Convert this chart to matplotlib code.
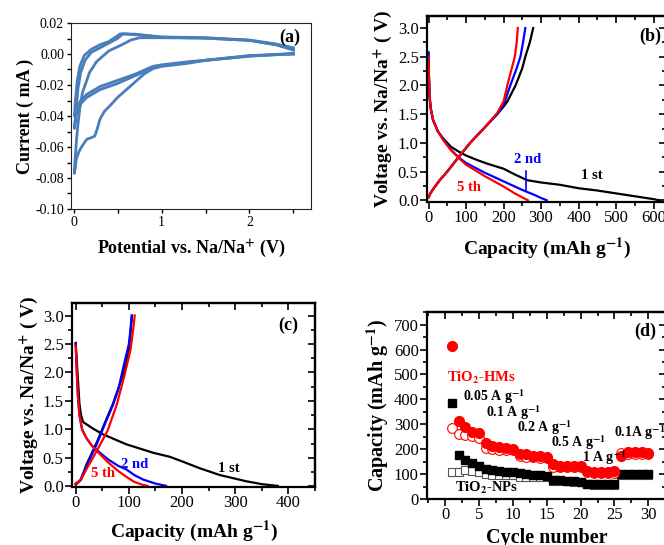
import matplotlib
matplotlib.use("Agg")
import matplotlib.pyplot as plt
from matplotlib.ticker import MultipleLocator
import numpy as np

plt.rcParams['font.family'] = ['Liberation Serif', 'DejaVu Serif']
plt.rcParams['mathtext.fontset'] = 'stix'

# ---------------- (a) CV data ----------------
cv1_E = [2.5, 2.0, 1.5, 1.3, 1.0, 0.9, 0.8, 0.7, 0.6, 0.5, 0.42, 0.35, 0.3, 0.27, 0.24, 0.2, 0.15,
         0.1, 0.06, 0.03, 0.01,
         0.014, 0.033, 0.05, 0.07, 0.1, 0.18, 0.26, 0.4, 0.55, 0.65, 0.75, 1.0, 1.5, 2.0, 2.3, 2.5]
cv1_I = [0.0005, -0.0015, -0.004, -0.006, -0.008, -0.0095, -0.013, -0.018, -0.023, -0.028, -0.033,
         -0.037, -0.042, -0.048, -0.053, -0.054, -0.055, -0.059, -0.063, -0.068, -0.077,
         -0.070, -0.055, -0.045, -0.035, -0.025, -0.012, -0.005, 0.002, 0.006, 0.009, 0.0105,
         0.0105, 0.0102, 0.0088, 0.006, 0.0025]
cv2_E = [2.5, 2.0, 1.5, 1.3, 1.0, 0.9, 0.7, 0.5, 0.3, 0.15, 0.08, 0.04, 0.02, 0.01,
         0.02, 0.04, 0.07, 0.12, 0.2, 0.3, 0.4, 0.48, 0.53, 0.7, 1.0, 1.5, 2.0, 2.3, 2.5]
cv2_I = [0.0, -0.001, -0.004, -0.005, -0.007, -0.008, -0.013, -0.017, -0.021, -0.026, -0.030,
         -0.035, -0.038, -0.040,
         -0.030, -0.018, -0.008, -0.001, 0.003, 0.006, 0.008, 0.011, 0.013, 0.0128, 0.011,
         0.0105, 0.009, 0.0065, 0.004]
cv3_E = [2.5, 2.0, 1.5, 1.3, 1.0, 0.9, 0.7, 0.5, 0.3, 0.15, 0.08, 0.04, 0.02, 0.01,
         0.03, 0.05, 0.08, 0.13, 0.2, 0.3, 0.4, 0.5, 0.56, 0.7, 1.0, 1.5, 2.0, 2.3, 2.5]
cv3_I = [0.0, -0.0012, -0.0042, -0.0055, -0.0075, -0.009, -0.014, -0.019, -0.023, -0.028,
         -0.032, -0.037, -0.042, -0.048,
         -0.035, -0.022, -0.012, -0.004, 0.001, 0.004, 0.007, 0.010, 0.013, 0.0125, 0.0108,
         0.0103, 0.0088, 0.006, 0.003]

# ---------------- (b) HMs charge/discharge ----------------
b_dis1_cap = [0, 1, 3, 6, 12, 25, 40, 60, 80, 100, 130, 160, 200, 230, 263, 300, 350, 400, 450, 500, 550, 600, 615]
b_dis1_v = [2.55, 2.2, 1.8, 1.6, 1.4, 1.2, 1.07, 0.93, 0.85, 0.78, 0.70, 0.63, 0.55, 0.45, 0.35, 0.31, 0.27, 0.21, 0.17, 0.12, 0.07, 0.02, 0.0]
b_dis2_cap = [0, 1, 3, 6, 12, 25, 40, 60, 80, 100, 150, 200, 250, 280, 300, 315]
b_dis2_v = [2.58, 2.2, 1.8, 1.6, 1.4, 1.2, 1.05, 0.88, 0.75, 0.65, 0.48, 0.33, 0.18, 0.10, 0.04, 0.0]
b_dis5_cap = [0, 1, 3, 6, 12, 25, 40, 60, 80, 100, 150, 200, 230, 250, 265]
b_dis5_v = [2.5, 2.2, 1.8, 1.6, 1.4, 1.2, 1.04, 0.87, 0.74, 0.62, 0.42, 0.24, 0.12, 0.05, 0.0]
b_chg1_cap = [0, 5, 15, 30, 50, 80, 111, 150, 183, 200, 210, 232, 250, 258, 270, 279]
b_chg1_v = [0.05, 0.12, 0.22, 0.35, 0.5, 0.75, 1.0, 1.27, 1.5, 1.63, 1.72, 2.0, 2.3, 2.5, 2.75, 3.0]
b_chg2_cap = [0, 5, 15, 30, 50, 80, 111, 150, 183, 200, 205, 218, 235, 245, 252, 258]
b_chg2_v = [0.05, 0.12, 0.22, 0.35, 0.5, 0.75, 1.0, 1.27, 1.5, 1.66, 1.75, 2.0, 2.3, 2.5, 2.75, 3.0]
b_chg5_cap = [0, 5, 15, 30, 50, 80, 111, 150, 183, 200, 210, 222, 230, 235, 238]
b_chg5_v = [0.05, 0.12, 0.22, 0.35, 0.5, 0.75, 1.0, 1.27, 1.52, 1.72, 2.0, 2.3, 2.5, 2.75, 3.0]

# ---------------- (c) NPs charge/discharge ----------------
c_dis1_cap = [0, 2, 4, 7, 10, 14, 30, 50, 95, 146, 177, 200, 233, 271, 321, 350, 380]
c_dis1_v = [2.52, 2.2, 1.9, 1.45, 1.25, 1.13, 1.03, 0.92, 0.74, 0.59, 0.52, 0.44, 0.32, 0.2, 0.09, 0.04, 0.01]
c_dis2_cap = [0, 2, 4, 7, 12, 20, 30, 42, 60, 80, 95, 110, 127, 150, 170]
c_dis2_v = [2.5, 2.0, 1.6, 1.25, 1.0, 0.85, 0.72, 0.62, 0.48, 0.36, 0.3, 0.2, 0.12, 0.05, 0.01]
c_dis5_cap = [0, 2, 4, 7, 12, 20, 30, 42, 60, 80, 95, 110, 125, 135]
c_dis5_v = [2.47, 2.0, 1.6, 1.25, 1.0, 0.85, 0.72, 0.6, 0.43, 0.27, 0.17, 0.08, 0.03, 0.01]
c_chg1_cap = [0, 10, 20, 40, 55, 70, 85, 95, 100, 103, 106]
c_chg1_v = [0.03, 0.12, 0.38, 0.78, 1.12, 1.45, 1.85, 2.15, 2.4, 2.7, 3.0]
c_chg2_cap = [0, 8, 20, 40, 55, 70, 80, 92, 100, 103, 105]
c_chg2_v = [0.05, 0.1, 0.35, 0.75, 1.1, 1.43, 1.7, 2.19, 2.5, 2.75, 3.0]
c_chg5_cap = [0, 10, 20, 40, 60, 77, 92, 103, 108, 111]
c_chg5_v = [0.05, 0.12, 0.3, 0.63, 0.98, 1.43, 1.96, 2.4, 2.75, 3.0]

# ---------------- (d) rate performance ----------------
cycles = list(range(1, 31))
hms_dis = [613, 315, 289, 270, 265, 224, 212, 210, 206, 200, 181, 180, 172, 171, 169,
           140, 134, 133, 132, 132, 113, 110, 109, 109, 112, 172, 188, 188, 187, 184]
hms_chg = [285, 263, 257, 254, 246, 206, 200, 198, 196, 195, 172, 170, 168, 166, 165,
           130, 128, 128, 127, 127, 108, 106, 106, 106, 105, 183, 182, 182, 181, 180]
nps_dis = [384, 175, 155, 143, 134, 120, 116, 113, 110, 108, 105, 101, 98, 96, 94,
           78, 76, 74, 72, 70, 62, 60, 59, 59, 59, 99, 102, 102, 102, 102]
nps_chg = [110, 110, 115, 113, 108, 100, 98, 97, 96, 95, 90, 89, 88, 88, 87,
           73, 72, 71, 70, 69, 60, 58, 57, 57, 57, 95, 97, 97, 97, 97]

W, H = 664, 545
fig = plt.figure(figsize=(W / 100, H / 100), dpi=100)


def rect(l, r, t, b):
    return [l / W, 1 - b / H, (r - l) / W, (b - t) / H]


TICK_FS = 12


def origin_style(ax, xmaj, xmin, ymaj, ymin):
    for s in ax.spines.values():
        s.set_linewidth(1.6)
    ax.xaxis.set_major_locator(MultipleLocator(xmaj))
    ax.xaxis.set_minor_locator(MultipleLocator(xmin))
    ax.yaxis.set_major_locator(MultipleLocator(ymaj))
    ax.yaxis.set_minor_locator(MultipleLocator(ymin))
    ax.tick_params(which='both', direction='out', width=1.2, labelsize=TICK_FS, pad=1)
    ax.tick_params(which='major', length=5)
    ax.tick_params(which='minor', length=3)
    # inward mirrored ticks on top / right
    tx = ax.secondary_xaxis('top')
    tx.xaxis.set_major_locator(MultipleLocator(xmaj))
    tx.xaxis.set_minor_locator(MultipleLocator(xmin))
    tx.tick_params(which='both', direction='in', labeltop=False, width=1.2)
    tx.tick_params(which='major', length=5)
    tx.tick_params(which='minor', length=3)
    tx.spines['top'].set_linewidth(1.6)
    ty = ax.secondary_yaxis('right')
    ty.yaxis.set_major_locator(MultipleLocator(ymaj))
    ty.yaxis.set_minor_locator(MultipleLocator(ymin))
    ty.tick_params(which='both', direction='in', labelright=False, width=1.2)
    ty.tick_params(which='major', length=5)
    ty.tick_params(which='minor', length=3)
    ty.spines['right'].set_linewidth(1.6)


# ---------------- panel (a) ----------------
axa = fig.add_axes(rect(71, 311, 23, 209))
cv_color = '#4a7ebb'
for E, I in [(cv1_E, cv1_I), (cv2_E, cv2_I), (cv3_E, cv3_I)]:
    axa.plot(E, I, color=cv_color, lw=2.0, solid_joinstyle='round')
axa.set_xlim(-0.03, 2.7)
axa.set_ylim(-0.10, 0.02)
axa.xaxis.set_major_locator(MultipleLocator(1))
axa.xaxis.set_minor_locator(MultipleLocator(0.5))
axa.yaxis.set_major_locator(MultipleLocator(0.02))
axa.yaxis.set_minor_locator(MultipleLocator(0.01))
axa.set_yticks(np.arange(-0.10, 0.021, 0.02))
axa.set_yticklabels([f'{v:.2f}' for v in np.arange(-0.10, 0.021, 0.02)])
for s in axa.spines.values():
    s.set_linewidth(0.8)
    s.set_color('#222222')
axa.tick_params(which='both', direction='out', length=3, width=1.0, labelsize=10, pad=2)
axa.set_xlabel(r'Potential vs. Na/Na$^{\mathbf{+}}$ (V)', fontsize=13, fontweight='bold', labelpad=6)
axa.set_ylabel('Current ( mA )', fontsize=13, fontweight='bold', labelpad=1)
axa.text(2.46, 0.0106, '(a)', fontsize=13, fontweight='bold', ha='center', va='center')

# ---------------- panel (b) ----------------
axb = fig.add_axes(rect(427, 666, 16, 202))
axb.plot(b_dis1_cap, b_dis1_v, color='black', lw=1.6)
axb.plot(b_chg1_cap, b_chg1_v, color='black', lw=1.6)
axb.plot(b_dis2_cap, b_dis2_v, color='blue', lw=1.6)
axb.plot(b_chg2_cap, b_chg2_v, color='blue', lw=1.6)
axb.plot(b_dis5_cap, b_dis5_v, color='red', lw=1.6)
axb.plot(b_chg5_cap, b_chg5_v, color='red', lw=1.6)
axb.plot([260, 260], [0.16, 0.51], color='blue', lw=1.2)
axb.set_xlim(-4, 633)
axb.set_ylim(-0.03, 3.21)
origin_style(axb, 100, 50, 0.5, 0.25)
axb.set_xlabel(r'Capacity (mAh g$^{\mathbf{-1}}$)', fontsize=14, fontweight='bold', labelpad=7)
axb.set_ylabel(r'Voltage vs. Na/Na$^{\mathbf{+}}$ ( V)', fontsize=14, fontweight='bold', labelpad=2)
axb.text(265, 0.71, '2 nd', color='blue', fontsize=10.5, fontweight='bold', ha='center', va='center')
axb.text(435, 0.44, '1 st', color='black', fontsize=10.5, fontweight='bold', ha='center', va='center')
axb.text(109, 0.22, '5 th', color='red', fontsize=10.5, fontweight='bold', ha='center', va='center')
axb.text(590, 2.86, '(b)', fontsize=13, fontweight='bold', ha='center', va='center')

# ---------------- panel (c) ----------------
axc = fig.add_axes(rect(72, 315, 303, 487))
axc.plot(c_dis1_cap, c_dis1_v, color='black', lw=1.6)
axc.plot(c_chg1_cap, c_chg1_v, color='black', lw=1.6)
axc.plot(c_dis2_cap, c_dis2_v, color='blue', lw=1.6)
axc.plot(c_chg2_cap, c_chg2_v, color='blue', lw=1.6)
axc.plot(c_dis5_cap, c_dis5_v, color='red', lw=1.6)
axc.plot(c_chg5_cap, c_chg5_v, color='red', lw=1.6)
axc.set_xlim(-7, 450)
axc.set_ylim(-0.01, 3.22)
origin_style(axc, 100, 50, 0.5, 0.25)
axc.set_xlabel(r'Capacity (mAh g$^{\mathbf{-1}}$)', fontsize=14, fontweight='bold', labelpad=5)
axc.set_ylabel(r'Voltage vs. Na/Na$^{\mathbf{+}}$ ( V)', fontsize=14, fontweight='bold', labelpad=1)
axc.text(111, 0.38, '2 nd', color='blue', fontsize=10.5, fontweight='bold', ha='center', va='center')
axc.text(288, 0.31, '1 st', color='black', fontsize=10.5, fontweight='bold', ha='center', va='center')
axc.text(52, 0.22, '5 th', color='red', fontsize=10.5, fontweight='bold', ha='center', va='center')
axc.text(399, 2.82, '(c)', fontsize=13, fontweight='bold', ha='center', va='center')

# ---------------- panel (d) ----------------
axd = fig.add_axes(rect(427, 666, 312, 499))
axd.plot(cycles, nps_chg, ls='none', marker='s', ms=6, mfc='white', mec='#555555', mew=0.8)
axd.plot(cycles, nps_dis, ls='none', marker='s', ms=6, mfc='black', mec='black')
axd.plot(cycles, hms_chg, ls='none', marker='o', ms=7, mfc='white', mec='red', mew=0.8)
axd.plot(cycles, hms_dis, ls='none', marker='o', ms=7, mfc='red', mec='red')
axd.set_xlim(-2.66, 32.6)
axd.set_ylim(0, 751)
origin_style(axd, 5, 2.5, 100, 50)
axd.set_xlabel('Cycle number', fontsize=14.5, fontweight='bold', labelpad=3)
axd.set_ylabel(r'Capacity (mAh g$^{\mathbf{-1}}$)', fontsize=14.5, fontweight='bold', labelpad=2)
axd.text(0.25, 487, r'TiO$_{\mathbf{2}}$-HMs', color='red', fontsize=10.5, fontweight='bold', va='center')
axd.text(1.5, 43, r'TiO$_{\mathbf{2}}$-NPs', color='black', fontsize=10.5, fontweight='bold', va='center')
axd.text(2.6, 410, r'0.05 A g$^{\mathbf{-1}}$', fontsize=10, fontweight='bold', va='center')
axd.text(6.0, 345, r'0.1 A g$^{\mathbf{-1}}$', fontsize=10, fontweight='bold', va='center')
axd.text(10.6, 285, r'0.2 A g$^{\mathbf{-1}}$', fontsize=10, fontweight='bold', va='center')
axd.text(15.7, 228, r'0.5 A g$^{\mathbf{-1}}$', fontsize=10, fontweight='bold', va='center')
axd.text(20.2, 168, r'1 A g$^{\mathbf{-1}}$', fontsize=10, fontweight='bold', va='center')
axd.text(25.0, 265, r'0.1A g$^{\mathbf{-1}}$', fontsize=10, fontweight='bold', va='center')
axd.text(29.6, 674, '(d)', fontsize=13, fontweight='bold', ha='center', va='center')

fig.savefig('out.png', dpi=100)
